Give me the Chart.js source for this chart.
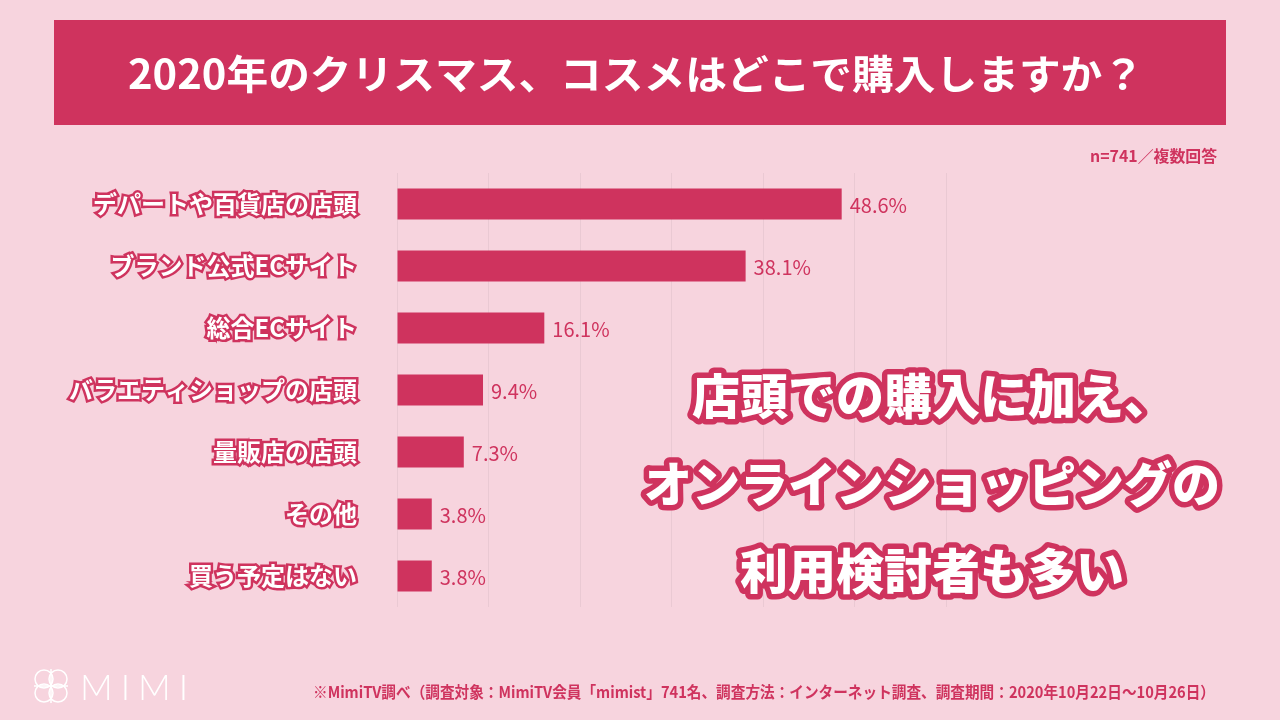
<!DOCTYPE html>
<html lang="ja">
<head>
    <meta charset="UTF-8">
    <title>2020年のクリスマス、コスメはどこで購入しますか？</title>
    <script src="https://cdn.jsdelivr.net/npm/chart.js"></script>
    <style>
        body {
            margin: 0;
            background-color: #F7D4DE;
        }
        #wrap {
            width: 1280px;
            height: 720px;
            position: relative;
        }
    </style>
</head>
<body>
    <div id="wrap"><canvas id="shopChart"></canvas></div>

    <script>
        // data
        const categories = [
            "デパートや百貨店の店頭",
            "ブランド公式ECサイト",
            "総合ECサイト",
            "バラエティショップの店頭",
            "量販店の店頭",
            "その他",
            "買う予定はない"
        ];
        const percentages = [48.6, 38.1, 16.1, 9.4, 7.3, 3.8, 3.8];
        const xTicks = [0, 10, 20, 30, 40, 50, 60];

        const titleText = "2020年のクリスマス、コスメはどこで購入しますか？";
        const noteText = "n=741／複数回答";
        const sourceText = "※MimiTV調べ（調査対象：MimiTV会員「mimist」741名、調査方法：インターネット調査、調査期間：2020年10月22日～10月26日）";
        const calloutLines = ["店頭での購入に加え、", "オンラインショッピングの", "利用検討者も多い"];

        const CRIMSON = "#CF335E";
        const JP = '"Noto Sans CJK JP", "Noto Sans", sans-serif';

        // draws text squeezed horizontally so it takes a given width
        function fitText(ctx, text, x, y, width, align) {
            const w = ctx.measureText(text).width;
            ctx.save();
            ctx.translate(x, y);
            ctx.scale(width / w, 1);
            ctx.textAlign = align;
            ctx.fillText(text, 0, 0);
            ctx.restore();
        }

        // banner, notes, footer, logo and the big callout
        const decorPlugin = {
            id: "decor",
            beforeDraw(chart) {
                const ctx = chart.ctx;
                ctx.save();
                ctx.fillStyle = CRIMSON;
                ctx.fillRect(54, 20, 1172, 105);

                ctx.fillStyle = "#FFFFFF";
                ctx.font = "bold 40px " + JP;
                ctx.textBaseline = "middle";
                fitText(ctx, titleText, 636, 74, 1016, "center");

                ctx.fillStyle = CRIMSON;
                ctx.font = "bold 16px " + JP;
                fitText(ctx, noteText, 1217, 156, 127, "right");

                ctx.font = "bold 16px " + JP;
                fitText(ctx, sourceText, 1215, 692, 902, "right");

                // MIMI logo
                ctx.strokeStyle = "#FFFFFF";
                ctx.lineWidth = 1.5;
                const cx = 51, cy = 686, r = 9;
                [[-7, -7], [7, -7], [-7, 7], [7, 7]].forEach(([dx, dy]) => {
                    ctx.beginPath();
                    ctx.arc(cx + dx, cy + dy, r, 0, Math.PI * 2);
                    ctx.stroke();
                });
                ctx.beginPath();
                ctx.moveTo(cx, cy - 17); ctx.lineTo(cx, cy + 17);
                ctx.moveTo(cx - 17, cy); ctx.lineTo(cx + 17, cy);
                ctx.stroke();

                ctx.fillStyle = "#FFFFFF";
                ctx.font = "300 36px Lato, sans-serif";
                ctx.textAlign = "left";
                if ("letterSpacing" in ctx) ctx.letterSpacing = "8px";
                ctx.fillText("MIMI", 80, 688);
                if ("letterSpacing" in ctx) ctx.letterSpacing = "0px";
                ctx.restore();
            },
            afterDatasetsDraw(chart) {
                const ctx = chart.ctx;
                const meta = chart.getDatasetMeta(0);
                ctx.save();
                ctx.fillStyle = CRIMSON;
                ctx.font = "20px " + JP;
                ctx.textAlign = "left";
                ctx.textBaseline = "middle";
                meta.data.forEach((bar, i) => {
                    ctx.fillText(percentages[i].toFixed(1) + "%", bar.x + 8, bar.y + 1);
                });
                ctx.restore();
            },
            afterDraw(chart) {
                const ctx = chart.ctx;
                ctx.save();
                ctx.font = "900 48px " + JP;
                ctx.textAlign = "center";
                ctx.textBaseline = "middle";
                ctx.lineJoin = "round";
                ctx.strokeStyle = CRIMSON;
                ctx.lineWidth = 11;
                ctx.fillStyle = "#FFFFFF";
                const ys = [396, 484, 571];
                calloutLines.forEach((line, i) => {
                    ctx.strokeText(line, 932, ys[i]);
                    ctx.fillText(line, 932, ys[i]);
                });
                ctx.restore();
            }
        };

        const ctx = document.getElementById("shopChart").getContext("2d");
        const shopChart = new Chart(ctx, {
            type: "bar",
            data: {
                labels: categories,
                datasets: [{
                    data: percentages,
                    backgroundColor: CRIMSON,
                    borderWidth: 0,
                    barPercentage: 0.5,
                    categoryPercentage: 1.0
                }]
            },
            options: {
                indexAxis: "y",
                responsive: true,
                maintainAspectRatio: false,
                animation: false,
                layout: {
                    padding: { left: 0, right: 334, top: 173, bottom: 113 }
                },
                scales: {
                    x: {
                        min: xTicks[0],
                        max: xTicks[xTicks.length - 1],
                        afterBuildTicks: (scale) => {
                            scale.ticks = xTicks.map(v => ({ value: v }));
                        },
                        afterFit: (scale) => { scale.height = 0; },
                        ticks: { display: false },
                        grid: { color: "#EAC9D3", lineWidth: 1, drawTicks: false },
                        border: { display: false }
                    },
                    y: {
                        afterFit: (scale) => { scale.width = 397; },
                        ticks: {
                            color: "#FFFFFF",
                            font: { family: JP, size: 24, weight: "bold" },
                            textStrokeColor: CRIMSON,
                            textStrokeWidth: 5,
                            padding: 40
                        },
                        grid: { display: false, drawTicks: false },
                        border: { display: false }
                    }
                },
                plugins: {
                    legend: { display: false },
                    tooltip: { enabled: false }
                }
            },
            plugins: [decorPlugin]
        });
    </script>
</body>
</html>
